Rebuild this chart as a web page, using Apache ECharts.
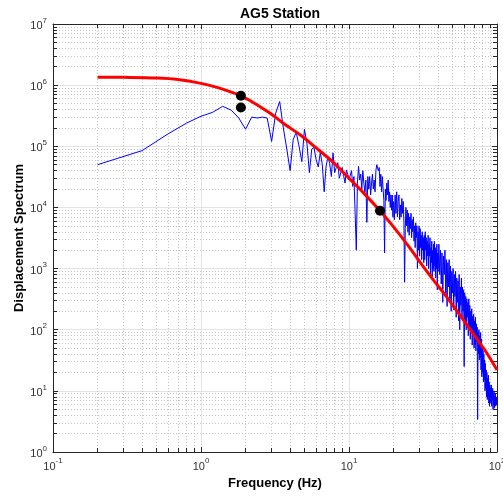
<!DOCTYPE html>
<html>
<head>
<meta charset="utf-8">
<script src="https://cdn.jsdelivr.net/npm/echarts@6/dist/echarts.min.js"></script>
<style>
  html, body { margin: 0; padding: 0; background: #fff; }
  #chart { width: 503px; height: 496px; }
</style>
</head>
<body>
<div id="chart"></div>
<script>
// observed displacement spectrum (blue)
const freqObs = [
  0.2, 0.4, 0.6, 0.8, 1.0, 1.2, 1.4, 1.6, 1.8, 2.0, 2.2, 2.4, 2.6, 2.8, 3.0, 3.2, 3.4, 3.6, 3.8, 4.0,
  4.2, 4.4, 4.6, 4.8, 5.0, 5.2, 5.4, 5.6, 5.8, 6.0, 6.2, 6.4, 6.6, 6.8, 7.0, 7.2, 7.4, 7.6, 7.8, 8.0,
  8.2, 8.4, 8.6, 8.8, 9.0, 9.2, 9.4, 9.6, 9.8, 10.0,
  10.2, 10.4, 10.6, 10.8, 11.0, 11.2, 11.4, 11.6, 11.8, 12.0,
  12.2, 12.4, 12.6, 12.8, 13.0, 13.2, 13.4, 13.6, 13.8, 14.0,
  14.2, 14.4, 14.6, 14.8, 15.0, 15.2, 15.4, 15.6, 15.8, 16.0,
  16.2, 16.4, 16.6, 16.8, 17.0, 17.2, 17.4, 17.6, 17.8, 18.0,
  18.2, 18.4, 18.6, 18.8, 19.0, 19.2, 19.4, 19.6, 19.8, 20.0,
  20.25, 20.5, 20.75, 21.0, 21.25, 21.5, 21.75, 22.0,
  22.25, 22.5, 22.75, 23.0, 23.25, 23.5, 23.75, 24.0,
  24.25, 24.5, 24.75, 25.0, 25.25, 25.5, 25.75, 26.0,
  26.25, 26.5, 26.75, 27.0, 27.25, 27.5, 27.75, 28.0,
  28.25, 28.5, 28.75, 29.0, 29.25, 29.5, 29.75, 30.0,
  30.25, 30.5, 30.75, 31.0, 31.25, 31.5, 31.75, 32.0,
  32.25, 32.5, 32.75, 33.0, 33.25, 33.5, 33.75, 34.0,
  34.25, 34.5, 34.75, 35.0, 35.25, 35.5, 35.75, 36.0,
  36.25, 36.5, 36.75, 37.0, 37.25, 37.5, 37.75, 38.0,
  38.25, 38.5, 38.75, 39.0, 39.25, 39.5, 39.75, 40.0,
  40.5, 41, 41.5, 42, 42.5, 43, 43.5, 44, 44.5, 45,
  45.5, 46, 46.5, 47, 47.5, 48, 48.5, 49, 49.5, 50,
  50.5, 51, 51.5, 52, 52.5, 53, 53.5, 54, 54.5, 55,
  55.5, 56, 56.5, 57, 57.5, 58, 58.5, 59, 59.5, 60,
  60.5, 61, 61.5, 62, 62.5, 63, 63.5, 64, 64.5, 65,
  65.5, 66, 66.5, 67, 67.5, 68, 68.5, 69, 69.5, 70,
  70.5, 71, 71.5, 72, 72.5, 73, 73.5, 74, 74.5, 75,
  75.5, 76, 76.5, 77, 77.5, 78, 78.5, 79, 79.5, 80,
  80.5, 81, 81.5, 82, 82.5, 83, 83.5, 84, 84.5, 85,
  85.5, 86, 86.5, 87, 87.5, 88, 88.5, 89, 89.5, 90,
  90.5, 91, 91.5, 92, 92.5, 93, 93.5, 94, 94.5, 95,
  95.5, 96, 96.5, 97, 97.5, 98, 98.5, 99, 99.5, 100
];
const ampObs = [
  5.0e4, 8.5e4, 1.6e5, 2.4e5, 3.1e5, 3.6e5, 4.5e5, 3.9e5, 2.9e5, 1.9e5, 3.0e5, 2.9e5, 3.0e5, 2.9e5, 1.2e5, 3.5e5, 5.4e5, 2.0e5, 9.0e4, 4.0e4,
  1.3e5, 1.7e5, 1.0e5, 5.6e4, 1.9e5, 1.1e5, 3.7e4, 9.0e4, 9.5e4, 6.0e4, 4.6e4, 8.0e4, 5.0e4, 1.8e4, 4.7e4, 6.7e4, 5.3e4, 3.2e4, 7.8e4, 3.7e4,
  4.5e4, 5.4e4, 3.0e4, 2.8e4, 4.5e4, 3.3e4, 2.5e4, 4.1e4, 3.5e4, 2.8e4,
  2.8e4, 4.0e4, 2.2e4, 3.2e4, 8.0e3, 2.0e3, 2.5e4, 4.7e4, 2.8e4, 3.5e4,
  2.0e4, 4.0e4, 2.5e4, 1.8e4, 2.8e4, 5.7e3, 3.2e4, 2.0e4, 3.2e4, 1.6e4,
  2.5e4, 3.5e4, 2.0e4, 2.8e4, 1.8e4, 4.0e4, 5.0e4, 5.0e4, 4.0e4, 4.5e4,
  2.2e4, 3.5e4, 1.8e4, 3.2e4, 2.0e4, 1.3e4, 1.8e3, 2.0e4, 1.3e4, 2.5e4,
  1.6e4, 2.8e4, 1.25e4, 1.8e4, 1.0e4, 1.6e4, 9.0e3, 1.6e4, 7.0e3, 1.25e4,
  6.3e3, 1.6e4, 8.0e3, 1.8e4, 7.0e3, 1.25e4, 1.6e4, 6.3e3,
  1.1e4, 7.0e3, 1.4e4, 8.0e3, 1.25e4, 5.6e3, 6.0e2, 4.5e3,
  1.0e4, 5.0e3, 9.0e3, 4.0e3, 8.0e3, 3.5e3, 7.0e3, 4.5e3,
  8.0e3, 3.2e3, 6.3e3, 4.0e3, 7.0e3, 2.8e3, 5.0e3, 2.2e3,
  5.6e3, 3.2e3, 5.0e3, 1.0e3, 4.0e3, 2.0e3, 5.0e3, 1.6e3,
  4.5e3, 2.2e3, 3.5e3, 1.4e3, 4.0e3, 2.0e3, 3.2e3, 1.25e3,
  3.5e3, 1.4e3, 4.0e3, 2.0e3, 3.2e3, 1.1e3, 2.8e3, 1.6e3,
  3.5e3, 1.0e3, 2.5e3, 1.6e3, 3.2e3, 8.0e2, 2.2e3, 1.25e3,
  2.8e3, 7.4e2, 2.0e3, 1.0e3, 2.5e3, 9.0e2, 2.8e3, 1.1e3,
  2.2e3, 7.0e2, 2.0e3, 1.0e3, 2.5e3, 4.5e2, 1.8e3, 9.0e2,
  2.5e3, 8.0e2, 2.0e3, 5.6e2, 1.8e3, 2.8e2, 1.6e3, 8.0e2, 2.0e3, 4.0e2,
  1.4e3, 2.4e2, 1.25e3, 5.0e2, 1.4e3, 3.2e2, 1.1e3, 2.0e2, 9.0e2, 4.0e2,
  1.0e3, 2.1e2, 8.0e2, 3.5e2, 9.0e2, 1.6e2, 7.0e2, 2.8e2, 6.3e2, 1.4e2,
  8.0e2, 1.0e2, 5.0e2, 2.5e2, 7.0e2, 1.6e2, 5.0e2, 2.0e2, 4.5e2, 25,
  4.0e2, 1.25e2, 3.5e2, 1.0e2, 3.2e2, 1.6e2, 2.8e2, 80, 3.2e2, 1.1e2,
  2.5e2, 70, 2.0e2, 1.0e2, 2.2e2, 56, 1.66e2, 80, 1.8e2, 50,
  1.4e2, 56, 1.6e2, 45, 1.25e2, 63, 1.1e2, 3.4, 90, 40,
  1.0e2, 32, 80, 35, 90, 22, 70, 17, 56, 20,
  45, 14, 40, 15, 32, 10, 28, 11, 22, 8,
  20, 7.2, 16, 8, 18, 6.3, 14, 5.6, 12.5, 6.3,
  11, 8.1, 12.5, 5.6, 10, 7.2, 11, 5, 9, 6,
  10, 5.2, 8.3, 6.3, 9, 5.6, 8, 6, 7.6, 6.6
];

// fitted source spectrum (red)
const freqFit = [0.2, 0.3, 0.5, 0.7, 1.0, 1.3, 1.6, 1.86, 2.14, 2.6, 3.0, 3.58, 4.67, 6, 7.8, 10, 12.4, 16.2, 20, 25, 30, 37, 45, 56, 70, 85, 100];
const ampFit = [1.35e6, 1.34e6, 1.31e6, 1.24e6, 1.07e6, 9.1e5, 7.7e5, 6.7e5, 5.6e5, 4.2e5, 3.35e5, 2.4e5, 1.54e5, 9.4e4, 5.5e4, 3.0e4, 1.78e4, 8.8e3, 4.8e3, 2.4e3, 1.3e3, 6.6e2, 3.6e2, 1.75e2, 82, 42, 22];

// black markers
const markFreq = [1.86, 1.86, 16.2];
const markAmp = [6.7e5, 4.3e5, 8.8e3];

// minor grid values
const minorX = [0.2, 0.3, 0.4, 0.5, 0.6, 0.7, 0.8, 0.9, 2, 3, 4, 5, 6, 7, 8, 9, 20, 30, 40, 50, 60, 70, 80, 90];
const minorY = [];
[1, 10, 100, 1e3, 1e4, 1e5, 1e6].forEach(d => {
  [2, 3, 4, 5, 6, 7, 8, 9].forEach(m => minorY.push(m * d));
});

const X_MIN = 0.1, X_MAX = 100, Y_MIN = 1, Y_MAX = 1e7;
const axisColor = '#262626';

function powLabel (v) {
  const e = Math.round(Math.log10(v));
  return '{b|10}{s|' + e + '}';
}
const richLabel = {
  b: { fontSize: 11, color: '#333', fontFamily: 'Liberation Sans', padding: [4, 0, 0, 0], verticalAlign: 'bottom' },
  s: { fontSize: 8, color: '#333', fontFamily: 'Liberation Sans', verticalAlign: 'top' }
};

// minor gridlines + minor ticks on the box
const xTickF = Math.pow(10, 4 / 148);
const yTickF = Math.pow(10, 4 / 61.2);
const gridLines = [];
minorX.forEach(v => gridLines.push({ xAxis: v }));
minorY.forEach(v => gridLines.push({ yAxis: v }));
const tickLines = [];
minorX.forEach(v => {
  tickLines.push([{ coord: [v, Y_MIN] }, { coord: [v, Y_MIN * yTickF] }]);
  tickLines.push([{ coord: [v, Y_MAX] }, { coord: [v, Y_MAX / yTickF] }]);
});
minorY.forEach(v => {
  tickLines.push([{ coord: [X_MIN, v] }, { coord: [X_MIN * xTickF, v] }]);
  tickLines.push([{ coord: [X_MAX, v] }, { coord: [X_MAX / xTickF, v] }]);
});

const chart = echarts.init(document.getElementById('chart'), null, { renderer: 'canvas' });

const logAxis = (extra) => Object.assign({
  type: 'log',
  logBase: 10,
  interval: 1,
  axisLine: { show: true, lineStyle: { color: axisColor, width: 1 } },
  axisTick: { show: true, inside: true, length: 5, lineStyle: { color: axisColor } },
  splitLine: { show: false }
}, extra);

chart.setOption({
  animation: false,
  backgroundColor: '#fff',
  title: {
    text: 'AG5 Station',
    left: 275,
    top: 2,
    textAlign: 'center',
    textStyle: { fontSize: 14, fontWeight: 'bold', color: '#000', fontFamily: 'Liberation Sans' }
  },
  grid: { left: 53, right: 6, top: 24, bottom: 44, containLabel: false, outerBoundsMode: 'none' },
  xAxis: [
    logAxis({
      min: X_MIN, max: X_MAX, position: 'bottom',
      name: 'Frequency (Hz)', nameLocation: 'middle', nameGap: 25, nameMoveOverlap: false,
      nameTextStyle: { fontSize: 13, fontWeight: 'bold', color: '#000', fontFamily: 'Liberation Sans' },
      axisLabel: { margin: 5, formatter: powLabel, rich: richLabel },
      splitLine: { show: true, lineStyle: { color: '#e3e3e3', width: 1 } }
    }),
    logAxis({ min: X_MIN, max: X_MAX, position: 'top', axisLabel: { show: false } })
  ],
  yAxis: [
    logAxis({
      min: Y_MIN, max: Y_MAX, position: 'left',
      name: 'Displacement Spectrum', nameLocation: 'middle', nameGap: 27, nameMoveOverlap: false,
      nameTextStyle: { fontSize: 13, fontWeight: 'bold', color: '#000', fontFamily: 'Liberation Sans' },
      axisLabel: { margin: 6, formatter: powLabel, rich: richLabel },
      splitLine: { show: true, lineStyle: { color: '#e3e3e3', width: 1 } }
    }),
    logAxis({ min: Y_MIN, max: Y_MAX, position: 'right', axisLabel: { show: false } })
  ],
  series: [
    {
      // minor grid
      type: 'line',
      data: [[X_MIN, Y_MIN]],
      symbol: 'none',
      lineStyle: { opacity: 0 },
      silent: true,
      z: 1,
      markLine: {
        z: 1,
        silent: true,
        symbol: ['none', 'none'],
        label: { show: false },
        animation: false,
        lineStyle: { color: '#c4c4c4', type: [1, 2], width: 1 },
        data: gridLines
      }
    },
    {
      // minor ticks
      type: 'line',
      data: [[X_MIN, Y_MIN]],
      symbol: 'none',
      lineStyle: { opacity: 0 },
      silent: true,
      z: 5,
      markLine: {
        z: 5,
        silent: true,
        symbol: ['none', 'none'],
        label: { show: false },
        animation: false,
        lineStyle: { color: axisColor, type: 'solid', width: 1 },
        data: tickLines
      }
    },
    {
      name: 'observed',
      type: 'line',
      data: freqObs.map((f, i) => [f, ampObs[i]]),
      symbol: 'none',
      lineStyle: { color: '#0000ff', width: 1 },
      z: 6
    },
    {
      name: 'fit',
      type: 'line',
      data: freqFit.map((f, i) => [f, ampFit[i]]),
      symbol: 'none',
      smooth: 0.3,
      lineStyle: { color: '#ff0000', width: 3 },
      z: 7
    },
    {
      name: 'corner',
      type: 'scatter',
      data: markFreq.map((f, i) => [f, markAmp[i]]),
      symbol: 'circle',
      symbolSize: 10,
      itemStyle: { color: '#000', opacity: 1 },
      z: 8
    }
  ]
});
</script>
</body>
</html>
